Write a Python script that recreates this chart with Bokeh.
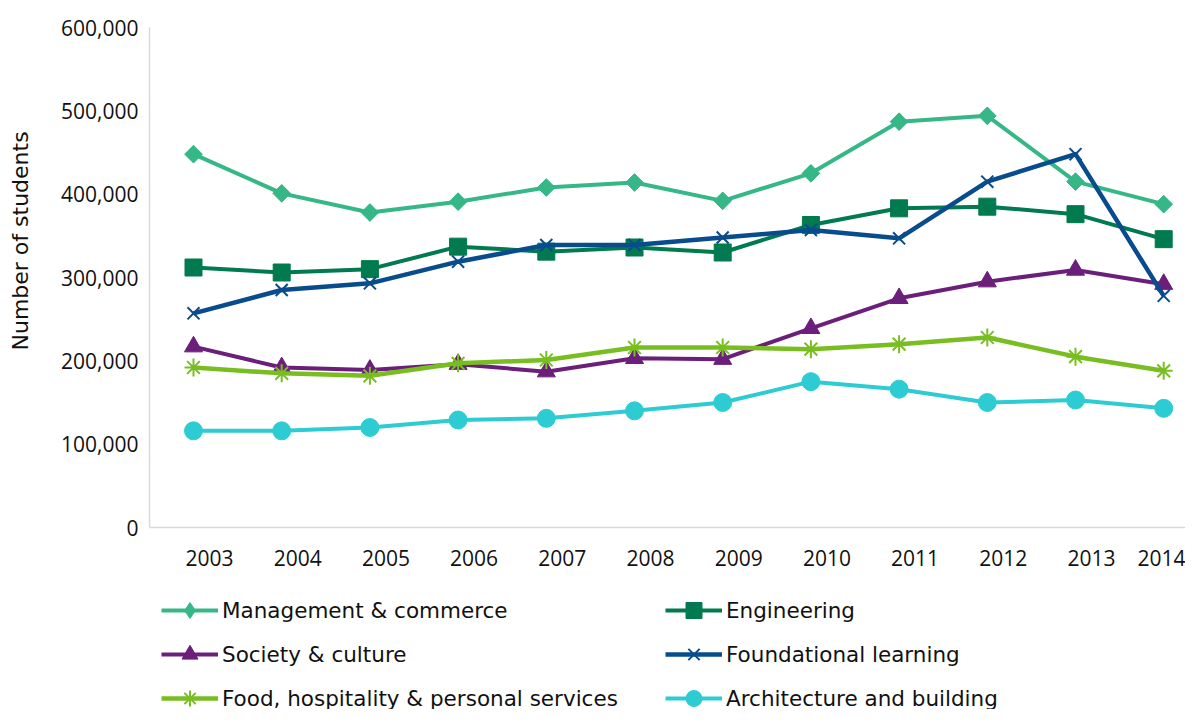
import numpy as np
from bokeh.plotting import figure
from bokeh.models import (Range1d, LinearAxis, FixedTicker, NumeralTickFormatter,
                          Legend, LegendItem, Title)
from bokeh.embed import file_html
from bokeh.resources import INLINE

# ---------------- data ----------------
years = [2003, 2004, 2005, 2006, 2007, 2008, 2009, 2010, 2011, 2012, 2013, 2014]
management = [448000, 401000, 378000, 391000, 408000, 414000, 392000, 425000, 487000, 494000, 415000, 388000]
engineering = [312000, 306000, 310000, 337000, 331000, 336000, 330000, 363000, 383000, 385000, 376000, 346000]
society = [217000, 192000, 189000, 196000, 187000, 203000, 202000, 239000, 275000, 295000, 309000, 292000]
foundational = [257000, 285000, 293000, 319000, 339000, 339000, 348000, 357000, 347000, 415000, 448000, 278000]
food = [192000, 185000, 182000, 197000, 201000, 216000, 216000, 214000, 220000, 228000, 205000, 188000]
architecture = [116000, 116000, 120000, 129000, 131000, 140000, 150000, 175000, 166000, 150000, 153000, 143000]

series_names = ["Management & commerce", "Engineering", "Society & culture",
                "Foundational learning", "Food, hospitality & personal services",
                "Architecture and building"]
y_ticks = [0, 100000, 200000, 300000, 400000, 500000, 600000]
y_title = "Number of students"

# ---------------- styles ----------------
series_values = [management, engineering, society, foundational, food, architecture]
colors = ["#36B788", "#007A4E", "#6B1F7B", "#084C8D", "#78BE21", "#2DCCD3"]
markers = ["square", "square", "triangle", "x", "asterisk", "circle"]
legend_markers = ["diamond", None, None, None, None, None]   # legend swatch override
angles = [np.pi / 4, 0, 0, 0, 0, 0]
sizes = [12.5, 17, 18, 17, 18, 18]
mline = [1, 1, 1, 2, 2, 1]
lwidths = [4, 4, 4, 4.5, 4.5, 4]

TICK_FONT = "Open Sans"
TEXT_FONT = "DejaVu Sans"

W, H = 1185, 709
FRAME_LEFT = 149
AX_TOP, AX_BOTTOM = 27, 527          # screen rows of 600,000 and 0
px_per_year = 88.2
first_pad = 44.0                      # px from frame left to first category
frame_w = W - FRAME_LEFT
xs = years[0] - first_pad / px_per_year
xe = xs + frame_w / px_per_year

# the frame spans the whole height; the value axis occupies rows AX_TOP..AX_BOTTOM
y_max = y_ticks[-1]
per_px = y_max / (AX_BOTTOM - AX_TOP)
ys = -(H - AX_BOTTOM) * per_px
ye = y_max + AX_TOP * per_px

p = figure(width=W, height=H, output_backend="svg", toolbar_location=None,
           x_axis_type=None, x_range=Range1d(xs, xe), y_range=Range1d(ys, ye),
           min_border_left=FRAME_LEFT, min_border_right=0, min_border_top=0,
           min_border_bottom=0)
p.outline_line_color = None
p.ygrid.grid_line_color = None
p.background_fill_color = "white"
p.border_fill_color = "white"

# y axis
ya = p.yaxis[0]
ya.bounds = (0, y_max)
ya.ticker = FixedTicker(ticks=y_ticks)
ya.formatter = NumeralTickFormatter(format="0,0")
ya.axis_line_color = "#D9D9D9"
ya.axis_line_width = 1.5
ya.major_tick_out = 0
ya.major_tick_in = 0
ya.minor_tick_out = 0
ya.minor_tick_in = 0
ya.major_label_standoff = 11
ya.major_label_text_font = TICK_FONT
ya.major_label_text_font_size = "21px"
ya.major_label_text_color = "#111111"

# blank spacer axis between the tick labels and the axis title
spacer = LinearAxis(ticker=FixedTicker(ticks=[0]), major_label_overrides={0: ""},
                    axis_line_color=None, major_tick_line_color=None,
                    minor_tick_line_color=None, major_tick_out=20, major_tick_in=0,
                    minor_tick_out=0, minor_tick_in=0, major_label_standoff=0)
p.add_layout(spacer, "left")

# x axis: labels sit slightly right of the category points, as in the source
label_shift = 16 / px_per_year
ls = xs - label_shift
p.extra_x_ranges = {"lab": Range1d(ls, xe - label_shift)}
last_label_px = 1161 - FRAME_LEFT     # last label pulled in so it stays on the canvas
tick_vals = [float(y) for y in years[:-1]] + [round(ls + last_label_px / px_per_year, 3)]
xa = LinearAxis(x_range_name="lab", fixed_location=0)
xa.ticker = FixedTicker(ticks=tick_vals)
xa.major_label_overrides = {t: str(y) for t, y in zip(tick_vals, years)}
xa.axis_line_color = "#D9D9D9"
xa.axis_line_width = 1.5
xa.major_tick_out = 0
xa.major_tick_in = 0
xa.minor_tick_out = 0
xa.minor_tick_in = 0
xa.major_label_standoff = 22
xa.major_label_text_font = TICK_FONT
xa.major_label_text_font_size = "21px"
xa.major_label_text_color = "#111111"
p.add_layout(xa, "below")

# series
items = []
for name, vals, c, m, lm, a, s, ml, lw in zip(series_names, series_values, colors, markers,
                                               legend_markers, angles, sizes, mline, lwidths):
    lr = p.line(years, vals, line_color=c, line_width=lw, line_join="round")
    sr = p.scatter(years, vals, marker=m, size=s, angle=a, fill_color=c,
                   line_color=c, line_width=ml)
    rs = [lr, sr]
    if lm is not None:
        # same points, drawn hidden inside the plot markers; used for the legend swatch
        proxy = p.scatter(years, vals, marker=lm, size=s + 4, fill_color=c, line_color=c)
        rs = [lr, proxy]
    items.append(LegendItem(label=name, renderers=rs))

legend = Legend(items=items, location=(12, -9), orientation="horizontal", ncols=2,
                glyph_width=57, glyph_height=40, label_height=40, label_width=439,
                spacing=4, padding=0, margin=0, label_standoff=4,
                background_fill_alpha=0, border_line_alpha=0,
                label_text_font=TEXT_FONT, label_text_font_size="21.5px",
                label_text_color="#111111")
p.add_layout(legend)

title = Title(text=y_title, align="left", offset=H - 350, standoff=11,
              text_font=TEXT_FONT, text_font_size="22px", text_font_style="normal",
              text_color="#111111")
p.add_layout(title, "left")

open("out.html", "w").write(file_html(p, INLINE))
